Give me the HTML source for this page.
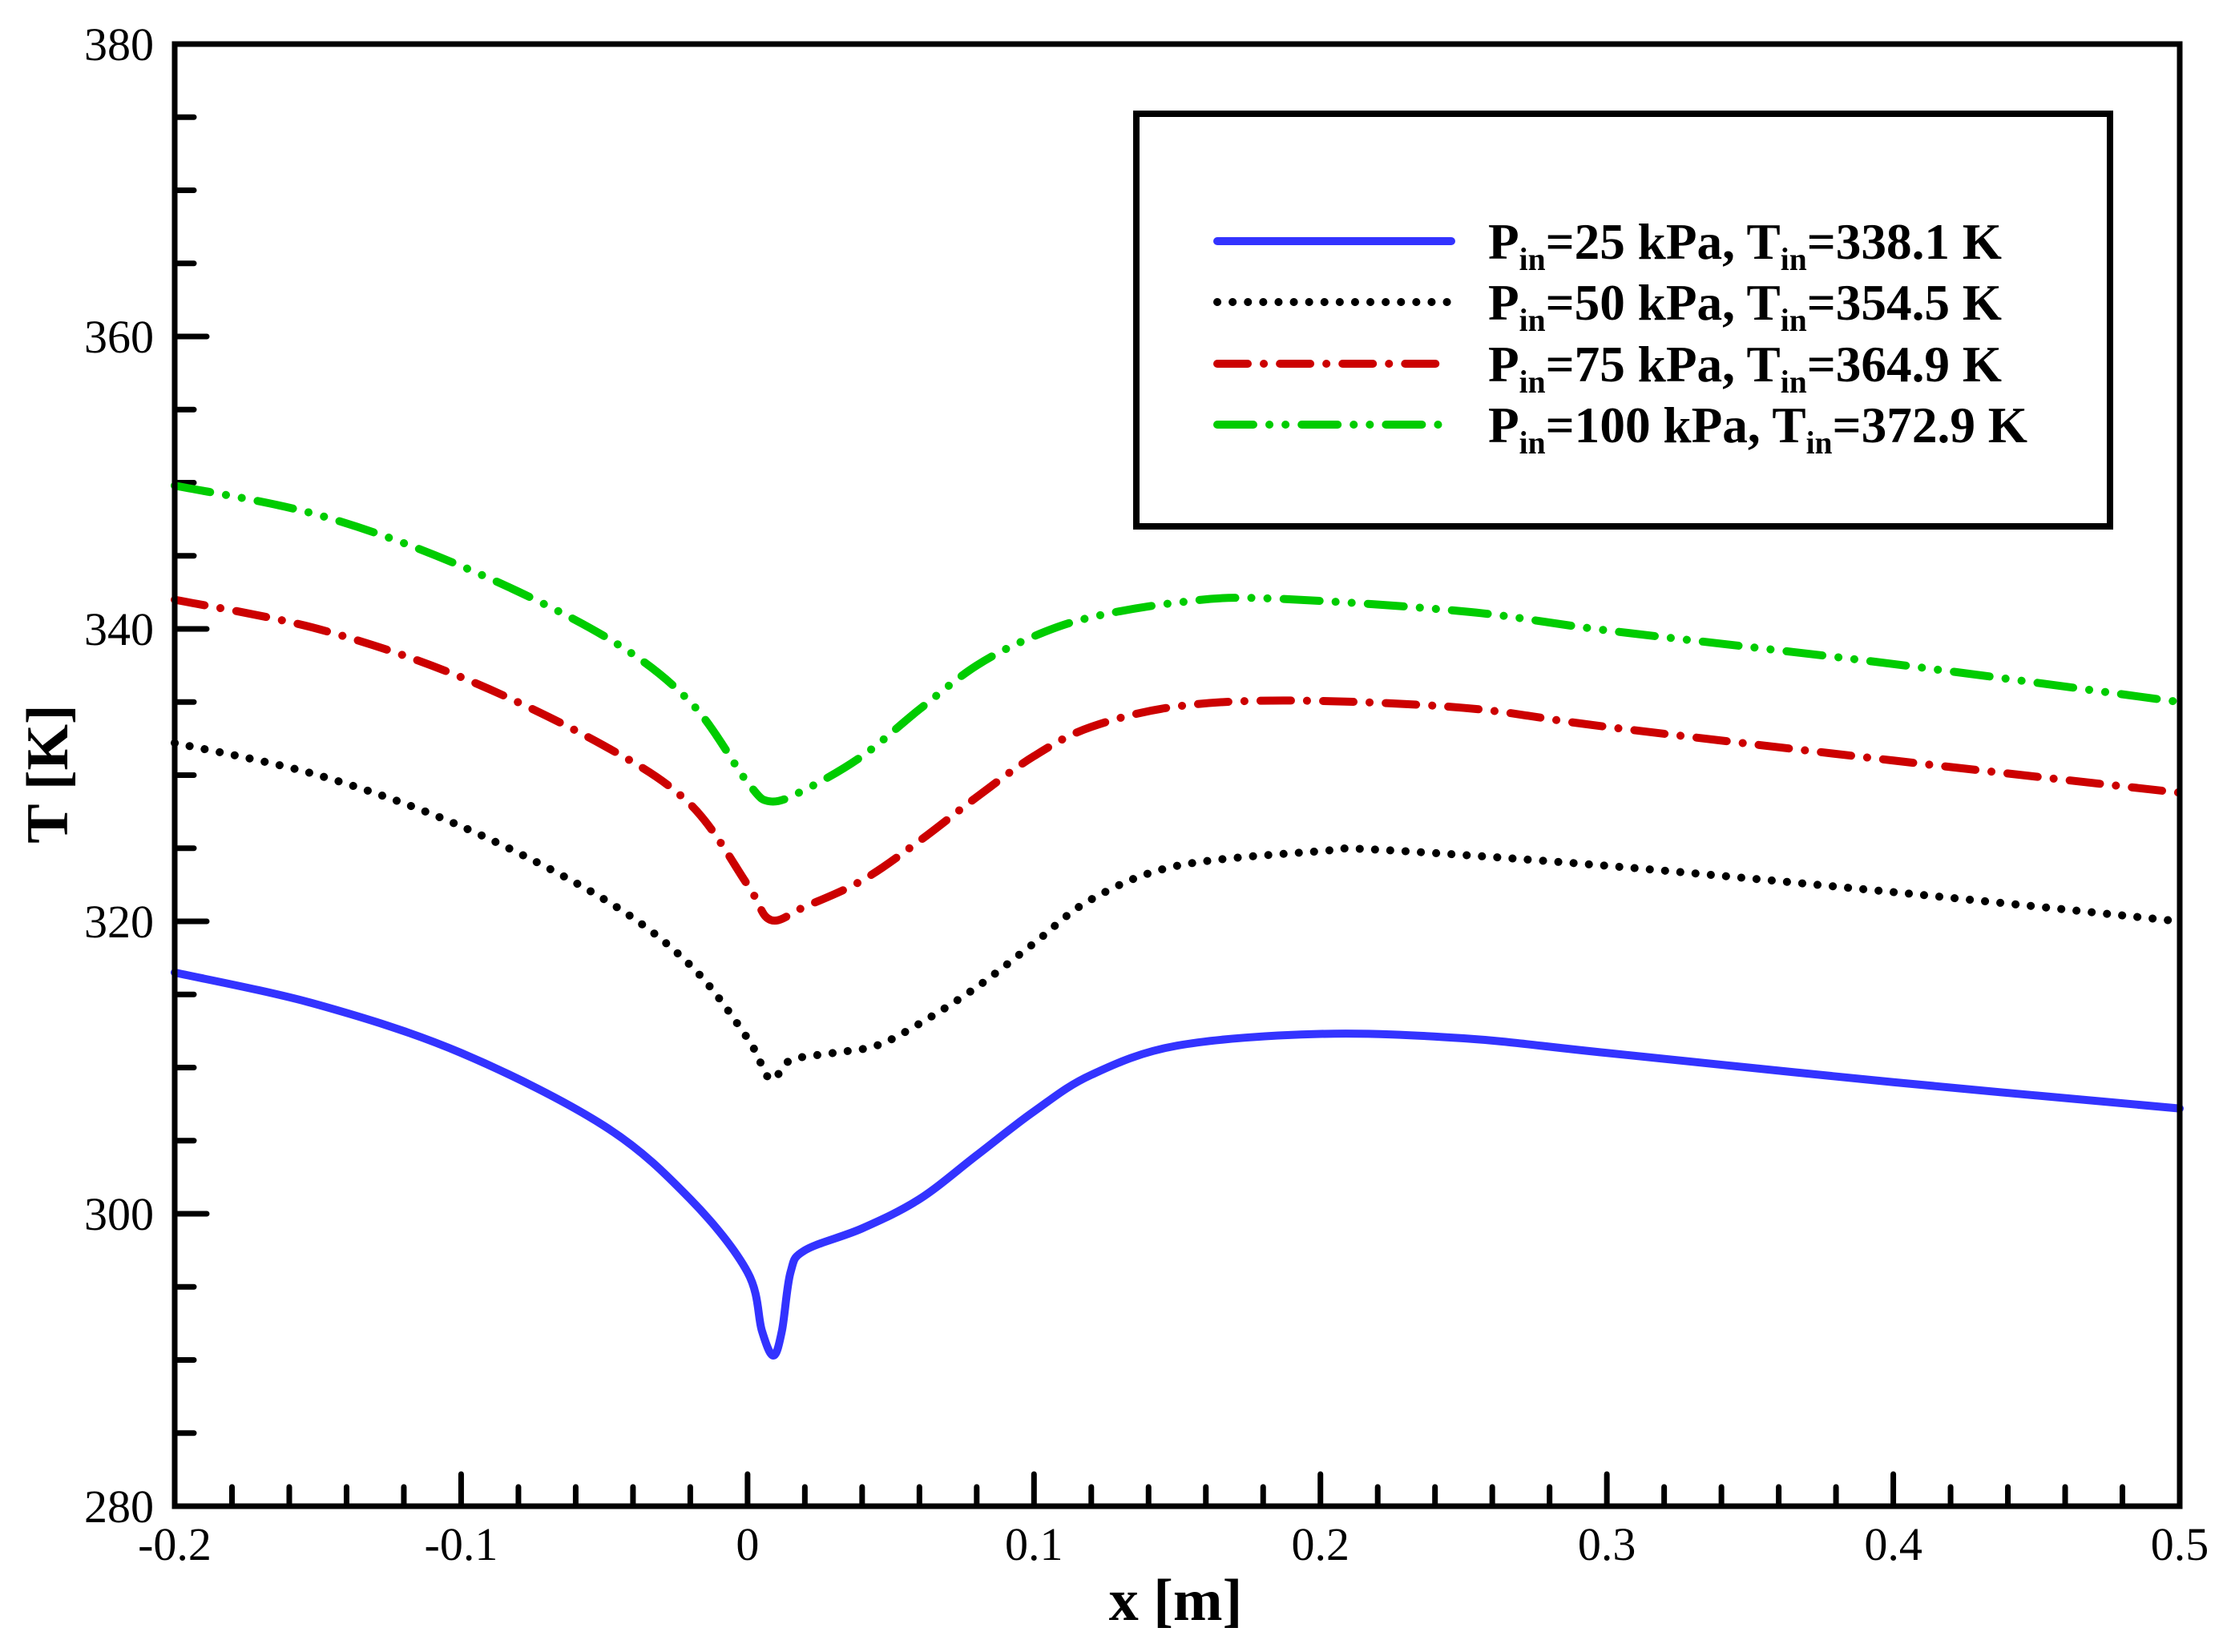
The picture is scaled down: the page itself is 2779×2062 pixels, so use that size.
<!DOCTYPE html>
<html><head><meta charset="utf-8"><style>html,body{margin:0;padding:0;background:#fff}svg{display:block}</style></head>
<body>
<svg id="chart" width="2779" height="2062" xmlns="http://www.w3.org/2000/svg" font-family="'Liberation Serif', serif">
<text x="1467" y="2022" text-anchor="middle" font-size="74" font-weight="bold">x [m]</text>
<text x="0" y="0" transform="translate(84,966) rotate(-90)" text-anchor="middle" font-size="74" font-weight="bold">T [K]</text>
</svg>
<script>
const xs25 = [-0.2,-0.15,-0.1,-0.05,-0.02,0,0.005,0.009,0.012,0.015,0.02,0.04,0.06,0.08,0.1,0.12,0.15,0.2,0.25,0.3,0.4,0.5];
const T25  = [316.5,314.3,311,306,301,296,292,290.3,292,296,297.5,299,301,304,307,309.5,311.5,312.3,312,311,309,307.2];
const xs50 = [-0.2,-0.15,-0.1,-0.05,-0.02,0,0.008,0.015,0.03,0.045,0.06,0.08,0.1,0.12,0.15,0.2,0.22,0.3,0.4,0.5];
const T50  = [332.2,330,326.5,321.5,317,312,309.2,310.5,311,311.5,313,315.5,318.5,321.5,323.8,324.8,324.9,323.8,322,320];
const xs75 = [-0.2,-0.15,-0.1,-0.05,-0.02,0,0.008,0.02,0.04,0.06,0.08,0.1,0.12,0.15,0.19,0.25,0.3,0.4,0.5];
const T75  = [342,340,336.7,332,328,322.5,320.1,321,322.8,325.5,328.5,331.3,333.3,334.7,335.1,334.6,333.3,331,328.8];
const xs100 = [-0.2,-0.15,-0.1,-0.05,-0.02,0,0.008,0.02,0.04,0.06,0.08,0.1,0.12,0.15,0.18,0.25,0.3,0.4,0.5];
const T100  = [349.8,347.8,344.3,339.5,335,329.5,328.2,329,331.3,334.5,337.5,339.5,340.8,341.8,342.1,341.2,339.9,337.6,335];
const xTicks = ["-0.2","-0.1","0","0.1","0.2","0.3","0.4","0.5"];
const yTicks = ["280","300","320","340","360","380"];

const L=218,R=2720,TOP=55,B=1880;
const X=v=>L+(v+0.2)/0.7*(R-L);
const Y=v=>B-(v-280)/100*(B-TOP);
const NS="http://www.w3.org/2000/svg";
const svg=document.getElementById('chart');
function mk(tag,attrs,parent){const e=document.createElementNS(NS,tag);for(const k in attrs)e.setAttribute(k,attrs[k]);(parent||svg).appendChild(e);return e;}

for(let i=0;i<=35;i++){
  const v=-0.2+i*0.02, major=i%5===0, x=X(v);
  const t=mk('line',{x1:x,x2:x,y1:B,y2:B-(major?40:24),stroke:'#000','stroke-width':7,'stroke-linecap':'round'});
  
  
}
for(let i=0;i<=20;i++){
  const v=280+i*5, major=i%4===0, y=Y(v);
  const t=mk('line',{x1:L,x2:L+(major?40:24),y1:y,y2:y,stroke:'#000','stroke-width':7,'stroke-linecap':'round'});
  
  
}
xTicks.forEach(s=>{
  const t=mk('text',{x:X(parseFloat(s)),y:1947,'text-anchor':'middle','font-size':58});
  t.textContent=s;
  
  
});
yTicks.forEach(s=>{
  const t=mk('text',{x:192,y:Y(parseFloat(s))+20,'text-anchor':'end','font-size':58});
  t.textContent=s;
  
  
});

const series=[
 {xs:xs25,ys:T25,color:'#3333ff',dash:'none',name:'series-25kpa'},
 {xs:xs50,ys:T50,color:'#000000',dash:'0.1 19',name:'series-50kpa'},
 {xs:xs75,ys:T75,color:'#cc0000',dash:'38 20 0.1 20',name:'series-75kpa'},
 {xs:xs100,ys:T100,color:'#00cc00',dash:'45 20 0.1 20 0.1 20',name:'series-100kpa'}
];
function smooth(pts){
  let d=`M${pts[0][0]},${pts[0][1]}`;
  for(let i=0;i<pts.length-1;i++){
    const p0=pts[i-1]||pts[i],p1=pts[i],p2=pts[i+1],p3=pts[i+2]||p2;
    const c1=[p1[0]+(p2[0]-p0[0])/6,p1[1]+(p2[1]-p0[1])/6];
    const c2=[p2[0]-(p3[0]-p1[0])/6,p2[1]-(p3[1]-p1[1])/6];
    d+=` C${c1[0]},${c1[1]} ${c2[0]},${c2[1]} ${p2[0]},${p2[1]}`;
  }
  return d;
}
series.forEach(s=>{
  const pts=s.xs.map((x,i)=>[X(x),Y(s.ys[i])]);
  const p=mk('path',{d:smooth(pts),fill:'none',stroke:s.color,'stroke-width':10,'stroke-linecap':'round','stroke-linejoin':'round'});
  if(s.dash!=='none')p.setAttribute('stroke-dasharray',s.dash);
  
  
});

const fr=mk('rect',{x:L,y:TOP,width:R-L,height:B-TOP,fill:'none',stroke:'#000','stroke-width':7});



const lg=mk('rect',{x:1418,y:142,width:1215,height:515,fill:'#fff',stroke:'#000','stroke-width':8});


const legP=["25","50","75","100"];
const legT=["338.1","354.5","364.9","372.9"];
const rowsY=[301,377,454,530];
series.forEach((s,i)=>{
  const y=rowsY[i];
  const l=mk('line',{x1:1519,x2:1811,y1:y,y2:y,stroke:s.color,'stroke-width':10,'stroke-linecap':'round'});
  if(s.dash!=='none')l.setAttribute('stroke-dasharray',s.dash);
  
  
  const t=mk('text',{x:1857,y:y+22,'font-size':64,'font-weight':'bold',textLength:i===3?673:641,lengthAdjust:'spacingAndGlyphs'});
  t.innerHTML=`P<tspan dy="14" font-size="40">in</tspan><tspan dy="-14">=${legP[i]} kPa, T</tspan><tspan dy="14" font-size="40">in</tspan><tspan dy="-14">=${legT[i]} K</tspan>`;
  
  
});
</script>
</body></html>
